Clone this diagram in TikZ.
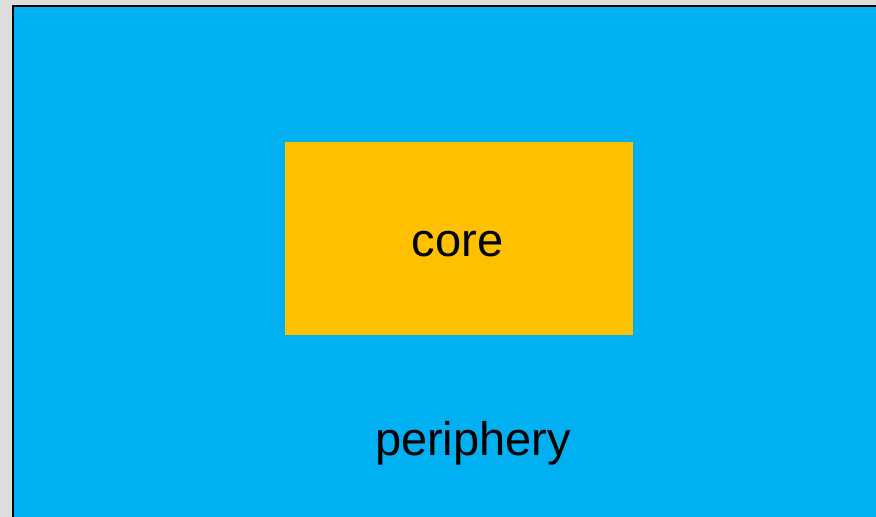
\documentclass[tikz,border=0pt]{standalone}
\usepackage{fontspec}
\setmainfont{Liberation Sans}
\usepackage{tikz}
\usetikzlibrary{positioning}
\definecolor{periblue}{HTML}{00B0F0}
\definecolor{coreorange}{HTML}{FFC000}
\definecolor{backgray}{HTML}{DDDDDD}

\begin{document}
\begin{tikzpicture}[x=1pt,y=-1pt,
	region/.style={rectangle,inner sep=0pt,outer sep=0pt},
	label text/.style={font=\fontsize{47}{51}\selectfont,anchor=base,inner sep=0pt}]
	% page background
	\fill[backgray] (0,0) rectangle (876,517);
	\useasboundingbox (0,0) rectangle (876,517);
	% outer region, runs off the right and bottom
	\fill[periblue] (13,6) rectangle (890,530);
	\draw[line width=2.2pt] (13,530) -- (13,6) -- (890,6);
	% inner region
	\node[region,fill=coreorange,minimum width=348pt,minimum height=193pt] (core) at (459,238.5) {};
	\node[label text] (corename) at (457.5,256) {core};
	\node[label text] (periphery) at (473,455) {periphery};
\end{tikzpicture}
\end{document}
